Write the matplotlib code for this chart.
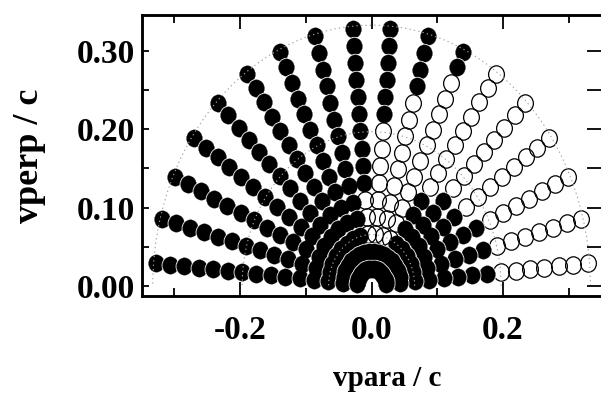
import matplotlib
matplotlib.use("Agg")
import matplotlib.pyplot as plt
import numpy as np
from matplotlib.path import Path

# pitch angles of the rays (deg) and speeds along each ray (v/c)
angles_deg = [5, 15, 25, 35, 45, 55, 65, 75, 85, 95, 105, 115, 125, 135, 145, 155, 165, 175]
speeds = [0.022, 0.044, 0.066, 0.088, 0.110, 0.132, 0.154, 0.176,
          0.198, 0.220, 0.242, 0.264, 0.286, 0.308, 0.330]

# F = filled, O = open; one string per angle, speeds from inner to outer
fill_pattern = [
    "FFFFFFFFOOOOOOO",  # 5
    "FFFFFFFFOOOOOOO",  # 15
    "FFFFFFFFOOOOOOO",  # 25
    "FFFFFFFOOOOOOOO",  # 35
    "FFFFFFFOOOOOOOO",  # 45
    "FFFFFFOOOOOOOOO",  # 55
    "FFOOOOOOOOOOOFF",  # 65
    "FFOOOOOOOOOFFFF",  # 75
    "FFOOOOOOOFFFFFF",  # 85
    "FFOOOFFFFFFFFFF",  # 95
    "FFFFFFFFFFFFFFF",  # 105
    "FFFFFFFFFFFFFFF",  # 115
    "FFFFFFFFFFFFFFF",  # 125
    "FFFFFFFFFFFFFFF",  # 135
    "FFFFFFFFFFFFFFF",  # 145
    "FFFFFFFFFFFFFFF",  # 155
    "FFFFFFFFFFFFFFF",  # 165
    "FFFFFFFFFFFFFFF",  # 175
]

# dotted reference circles (v/c)
circle_radii = [0.0655, 0.197, 0.333]

plt.rcParams.update({
    "font.family": ["Liberation Serif", "DejaVu Serif"],
    "font.weight": "bold",
})

fig = plt.figure(figsize=(6.01, 3.94), dpi=100)
ax = fig.add_axes([0.2356, 0.2487, 0.7654, 0.7132])

# slightly tall circle, like the original symbols
circ = Path.unit_circle()
marker = Path(circ.vertices * np.array([1.0, 1.1]), circ.codes)
MS = 12.5

th = np.deg2rad(angles_deg)
# outer speeds first so the inner rings sit on top
for k in range(len(speeds) - 1, -1, -1):
    r = speeds[k]
    fx = [r * np.cos(a) for j, a in enumerate(th) if fill_pattern[j][k] == "F"]
    fy = [r * np.sin(a) for j, a in enumerate(th) if fill_pattern[j][k] == "F"]
    ox = [r * np.cos(a) for j, a in enumerate(th) if fill_pattern[j][k] == "O"]
    oy = [r * np.sin(a) for j, a in enumerate(th) if fill_pattern[j][k] == "O"]
    # thin white halo round the filled ring
    ax.plot(fx, fy, marker=marker, ms=MS, mfc="white", mec="white", mew=1.4,
            ls="none", zorder=3)
    ax.plot(ox, oy, marker=marker, ms=MS, mfc="none", mec="black", mew=0.9,
            ls="none", zorder=3)
    ax.plot(fx, fy, marker=marker, ms=MS, mfc="black", mec="black", mew=0.2,
            ls="none", zorder=3)

t = np.linspace(0, np.pi, 400)
for rc in circle_radii:
    ax.plot(rc * np.cos(t), rc * np.sin(t), color="#a0a0a0", lw=0.8,
            ls=(0, (1.2, 2.8)), zorder=4)

ax.set_xlim(-0.35, 0.35)
ax.set_ylim(-0.013, 0.346)

ax.set_xticks([-0.2, 0.0, 0.2])
ax.set_xticklabels(["-0.2", "0.0", "0.2"])
ax.set_xticks([-0.3, -0.1, 0.1, 0.3], minor=True)
ax.set_yticks([0.0, 0.1, 0.2, 0.3])
ax.set_yticklabels(["0.00", "0.10", "0.20", "0.30"])
ax.set_yticks([0.05, 0.15, 0.25], minor=True)

ax.tick_params(axis="x", which="major", direction="in", length=10, width=1.3,
               top=True, labelsize=24, pad=14)
ax.tick_params(axis="x", which="minor", direction="in", length=6, width=1.3,
               top=True)
ax.tick_params(axis="y", which="both", direction="in", length=5, width=1.3,
               right=False, labelsize=24, pad=5)

# longer ticks on the right side
ax2 = ax.twinx()
ax2.set_ylim(ax.get_ylim())
ax2.set_yticks([0.0, 0.05, 0.1, 0.15, 0.2, 0.25, 0.3])
ax2.tick_params(axis="y", direction="in", length=11, width=1.3, labelright=False)

for a in (ax, ax2):
    for s in a.spines.values():
        s.set_linewidth(1.8)

fig.text(387 / 601, 1 - 386 / 394, "vpara / c", fontsize=21, fontweight="bold",
         ha="center", va="baseline")
fig.text(30 / 601, 1 - 156 / 394, "vperp / c", fontsize=26, fontweight="bold",
         ha="center", va="center", rotation=90)

fig.savefig("out.png", dpi=100)
